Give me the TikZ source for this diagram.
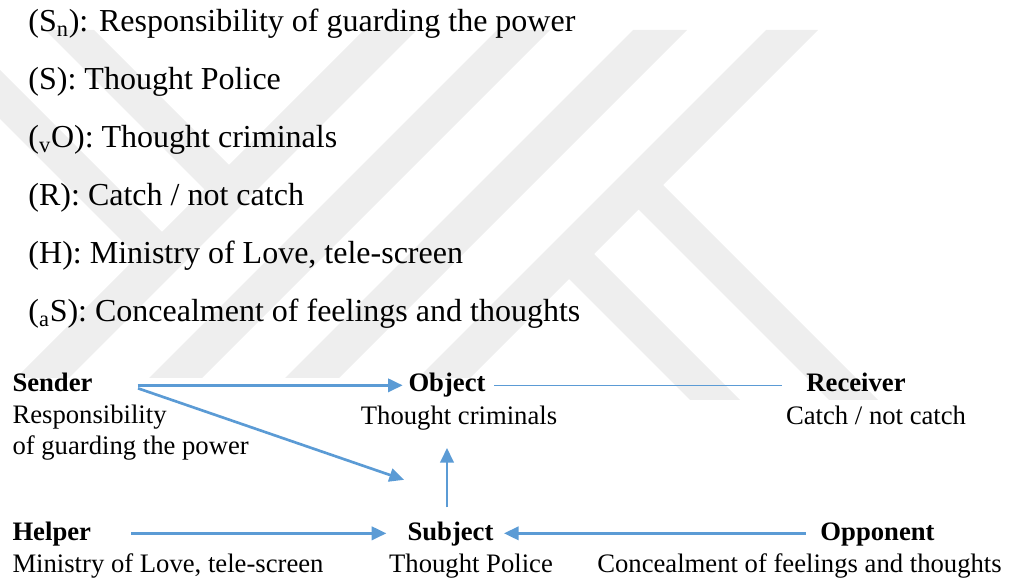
\documentclass[tikz,border=0pt]{standalone}
\usepackage{fontspec}
\setmainfont{Liberation Serif}
\usetikzlibrary{arrows.meta}

\definecolor{lineblue}{RGB}{91,155,213}
\definecolor{markgray}{RGB}{238,238,238}

\tikzset{every picture/.style={line width=0.75pt}}
\tikzset{
  listtext/.style={anchor=base west,inner sep=0pt,font=\fontsize{24}{28}\selectfont},
  rolename/.style={anchor=base,inner sep=0pt,text height=14pt,text depth=4pt,font=\fontsize{20}{24}\selectfont\bfseries},
  roletext/.style={anchor=base,inner sep=0pt,align=left,font=\fontsize{20}{23.4}\selectfont},
  rolearrow/.style={color=lineblue,line width=2pt,-{Triangle[length=11pt,width=10pt]}},
  roleline/.style={color=lineblue,line width=0.9pt},
}

\begin{document}
\begin{tikzpicture}[x=0.75pt,y=0.75pt,yscale=-1,xscale=1]
\useasboundingbox (0,0) rectangle (1010,580);

%Watermark
\begin{scope}
\clip (0,30) rectangle (1010,400);
%Shape: Polygon
\fill [markgray] (364,30) -- (417,30) -- (69,378) -- (16,378) -- cycle ;
%Shape: Polygon
\fill [markgray] (497,30) -- (550,30) -- (202,378) -- (149,378) -- cycle ;
%Shape: Polygon
\fill [markgray] (633,30) -- (687,30) -- (339,378) -- (285,378) -- cycle ;
%Shape: Polygon
\fill [markgray] (766,30) -- (818,30) -- (470,378) -- (418,378) -- cycle ;
%Shape: Polygon
\fill [markgray] (45,30) -- (94,30) -- (242,178) -- (217.5,202.5) -- cycle ;
%Shape: Polygon
\fill [markgray] (-89,30) -- (-40,30) -- (175,245) -- (150.5,269.5) -- cycle ;
%Shape: Polygon
\fill [markgray] (649,171) -- (878,400) -- (829,400) -- (624.5,195.5) -- cycle ;
%Shape: Polygon
\fill [markgray] (580,240) -- (740,400) -- (690,400) -- (555,265) -- cycle ;
\end{scope}

% Text Node
\draw (28,31.5) node (sn) [listtext] {(S\textsubscript{n}): Responsibility of guarding the power};
% Text Node
\draw (28,89.6) node (s) [listtext] {(S): Thought Police};
% Text Node
\draw (28,147.7) node (vo) [listtext] {(\textsubscript{v}O): Thought criminals};
% Text Node
\draw (28,205.8) node (r) [listtext] {(R): Catch / not catch};
% Text Node
\draw (28,263.9) node (h) [listtext] {(H): Ministry of Love, tele-screen};
% Text Node
\draw (28,322) node (as) [listtext] {(\textsubscript{a}S): Concealment of feelings and thoughts};

% Text Node
\draw (12,392) node (sender) [rolename,anchor=base west] {Sender};
% Text Node
\draw (12,455) node (sendertext) [roletext,anchor=base west] {Responsibility\\of guarding the power};
% Text Node
\draw (447,392) node (object) [rolename] {Object};
% Text Node
\draw (459,425) node (objecttext) [roletext] {Thought criminals};
% Text Node
\draw (856,392) node (receiver) [rolename] {Receiver};
% Text Node
\draw (876,425) node (receivertext) [roletext] {Catch / not catch};
% Text Node
\draw (12,540) node (helper) [rolename,anchor=base west] {Helper};
% Text Node
\draw (12,572) node (helpertext) [roletext,anchor=base west] {Ministry of Love, tele-screen};
% Text Node
\draw (450.5,540) node (subject) [rolename] {Subject};
% Text Node
\draw (471,572) node (subjecttext) [roletext] {Thought Police};
% Text Node
\draw (877.5,540) node (opponent) [rolename] {Opponent};
% Text Node
\draw (799.5,572) node (opponenttext) [roletext] {Concealment of feelings and thoughts};

%Straight Lines
\draw [rolearrow,shorten <=33.5pt,shorten >=4pt] (sender.east) -- (object.west) ;
%Straight Lines
\draw [roleline,shorten <=6pt,shorten >=18pt] (object.east) -- (receiver.west) ;
%Straight Lines
\draw [rolearrow] ([shift={(45,3)}]sender.east) -- ([shift={(-3,-41)}]subject.north west) ;
%Straight Lines
\draw [rolearrow,shorten <=10pt,shorten >=12.5pt] (subject.north -| object.south) -- (objecttext.south -| object.south) ;
%Straight Lines
\draw [rolearrow,shorten <=30pt,shorten >=15.5pt] (helper.east) -- (subject.west) ;
%Straight Lines
\draw [rolearrow,shorten <=10.5pt,shorten >=7.5pt] (opponent.west) -- (subject.east) ;

\end{tikzpicture}
\end{document}
